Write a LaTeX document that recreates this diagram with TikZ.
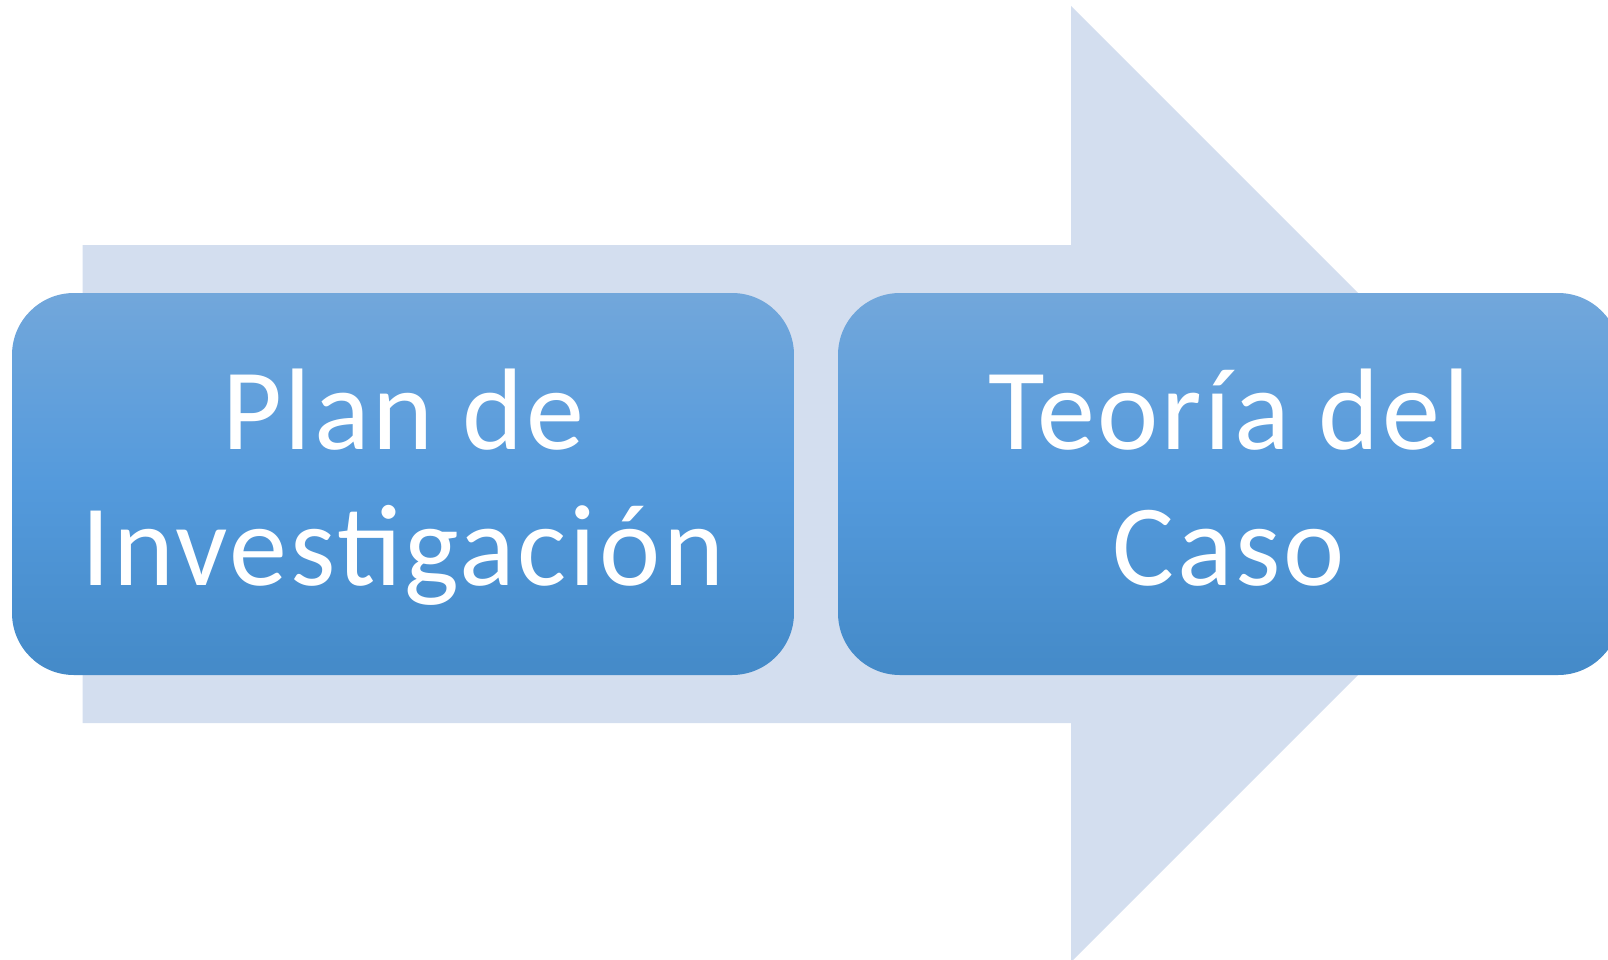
\documentclass[tikz,border=0pt]{standalone}
\usepackage{fontspec}
\setmainfont{Carlito}[LetterSpace=2.4]
\definecolor{arrowbg}{RGB}{211,222,239}
\definecolor{boxtop}{RGB}{114,167,219}
\definecolor{boxmid}{RGB}{84,154,220}
\definecolor{boxbot}{RGB}{68,138,200}
\newcommand{\topstrut}{\rule{0pt}{106pt}}
\newcommand{\botstrut}{\rule[-40pt]{0pt}{40pt}}
\tikzset{
  stagebox/.style={rounded corners=62pt, minimum width=782pt, minimum height=382pt,
    inner sep=0pt, top color=boxtop, bottom color=boxbot, middle color=boxmid,
    text=white, align=center, font=\fontsize{116}{136}\selectfont}
}
\begin{document}
\begin{tikzpicture}[x=1pt,y=-1pt]
\useasboundingbox (0,0) rectangle (1608,960);
\clip (0,0) rectangle (1608,960);
\fill[arrowbg] (82.7,245) -- (1071,245) -- (1071,6) -- (1549,484) -- (1071,962) -- (1071,723) -- (82.7,723) -- cycle;
\node[stagebox] (plan) at (403,484) {\topstrut Plan de\\Investigación\botstrut};
\node[stagebox] (teoria) at (1229,484) {\topstrut Teoría del\\Caso\botstrut};
\end{tikzpicture}
\end{document}
